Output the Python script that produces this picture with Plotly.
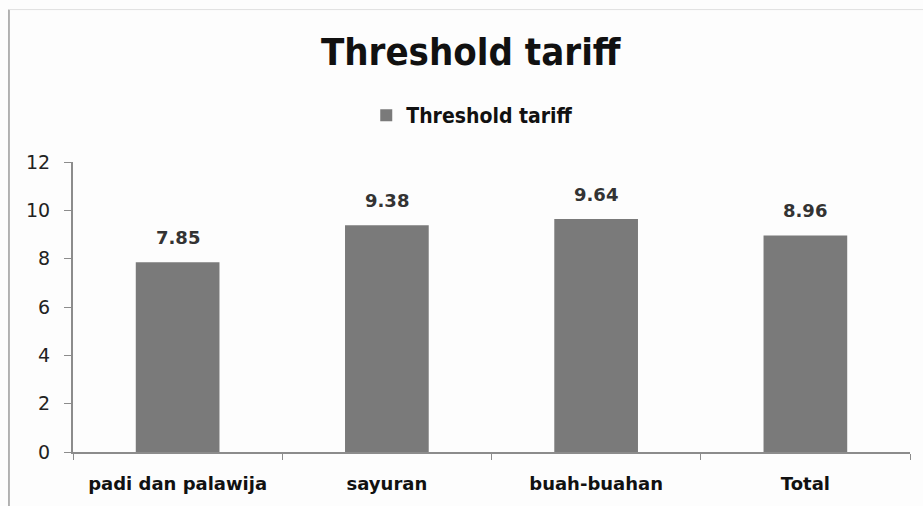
import plotly.graph_objects as go

categories = ["padi dan palawija", "sayuran", "buah-buahan", "Total"]
values = [7.85, 9.38, 9.64, 8.96]
value_labels = ["7.85", "9.38", "9.64", "8.96"]
series_name = "Threshold tariff"
y_ticks = [0, 2, 4, 6, 8, 10, 12]

fig = go.Figure()
fig.add_trace(go.Bar(
    x=categories, y=values, name=series_name,
    marker=dict(color="#7a7a7a", line=dict(width=0)),
    width=0.4, showlegend=True,
))

for c, v, t in zip(categories, values, value_labels):
    fig.add_annotation(x=c, y=v, text=t, showarrow=False, yanchor="bottom", yshift=12,
                       font=dict(family="DejaVu Sans", size=18, color="#333333", weight="bold"))

fig.update_layout(
    width=923, height=506,
    paper_bgcolor="#fdfdfd", plot_bgcolor="#fdfdfd",
    margin=dict(l=73, r=13, t=162, b=51),
    title=dict(text="<b>Threshold tariff</b>", x=0.51, xanchor="center", y=0.897, yanchor="middle",
               font=dict(family="DejaVu Sans Condensed, Open Sans", size=38, color="#111111")),
    legend=dict(orientation="h", x=0.477, xanchor="center", y=1.16, yanchor="middle",
                font=dict(family="DejaVu Sans Condensed, Open Sans", size=21, color="#111111", weight="bold"),
                bgcolor="rgba(0,0,0,0)", itemwidth=30),
    xaxis=dict(type="category", showline=True, linecolor="#8c8c8c", linewidth=2,
               ticks="outside", tickson="boundaries", ticklen=6, tickcolor="#8c8c8c",
               tickfont=dict(family="DejaVu Sans", size=18, color="#111111", weight="bold"),
               ticklabelstandoff=14, showgrid=False),
    yaxis=dict(range=[0, 12], tickvals=y_ticks, showline=True, linecolor="#8c8c8c", linewidth=2,
               ticks="outside", ticklen=7, tickcolor="#8c8c8c", showgrid=False, zeroline=False,
               tickfont=dict(family="DejaVu Sans", size=19, color="#222222"), ticklabelstandoff=10),
    bargap=0.6,
    shapes=[
        dict(type="line", xref="paper", yref="paper", x0=-0.0765, x1=-0.0765, y0=-0.2, y1=1.5256,
             line=dict(color="#9a9a9a", width=1.5)),
        dict(type="line", xref="paper", yref="paper", x0=-0.0765, x1=1.02, y0=1.5256, y1=1.5256,
             line=dict(color="#e0e0e0", width=1)),
    ],
)

fig.write_html("out.html")
